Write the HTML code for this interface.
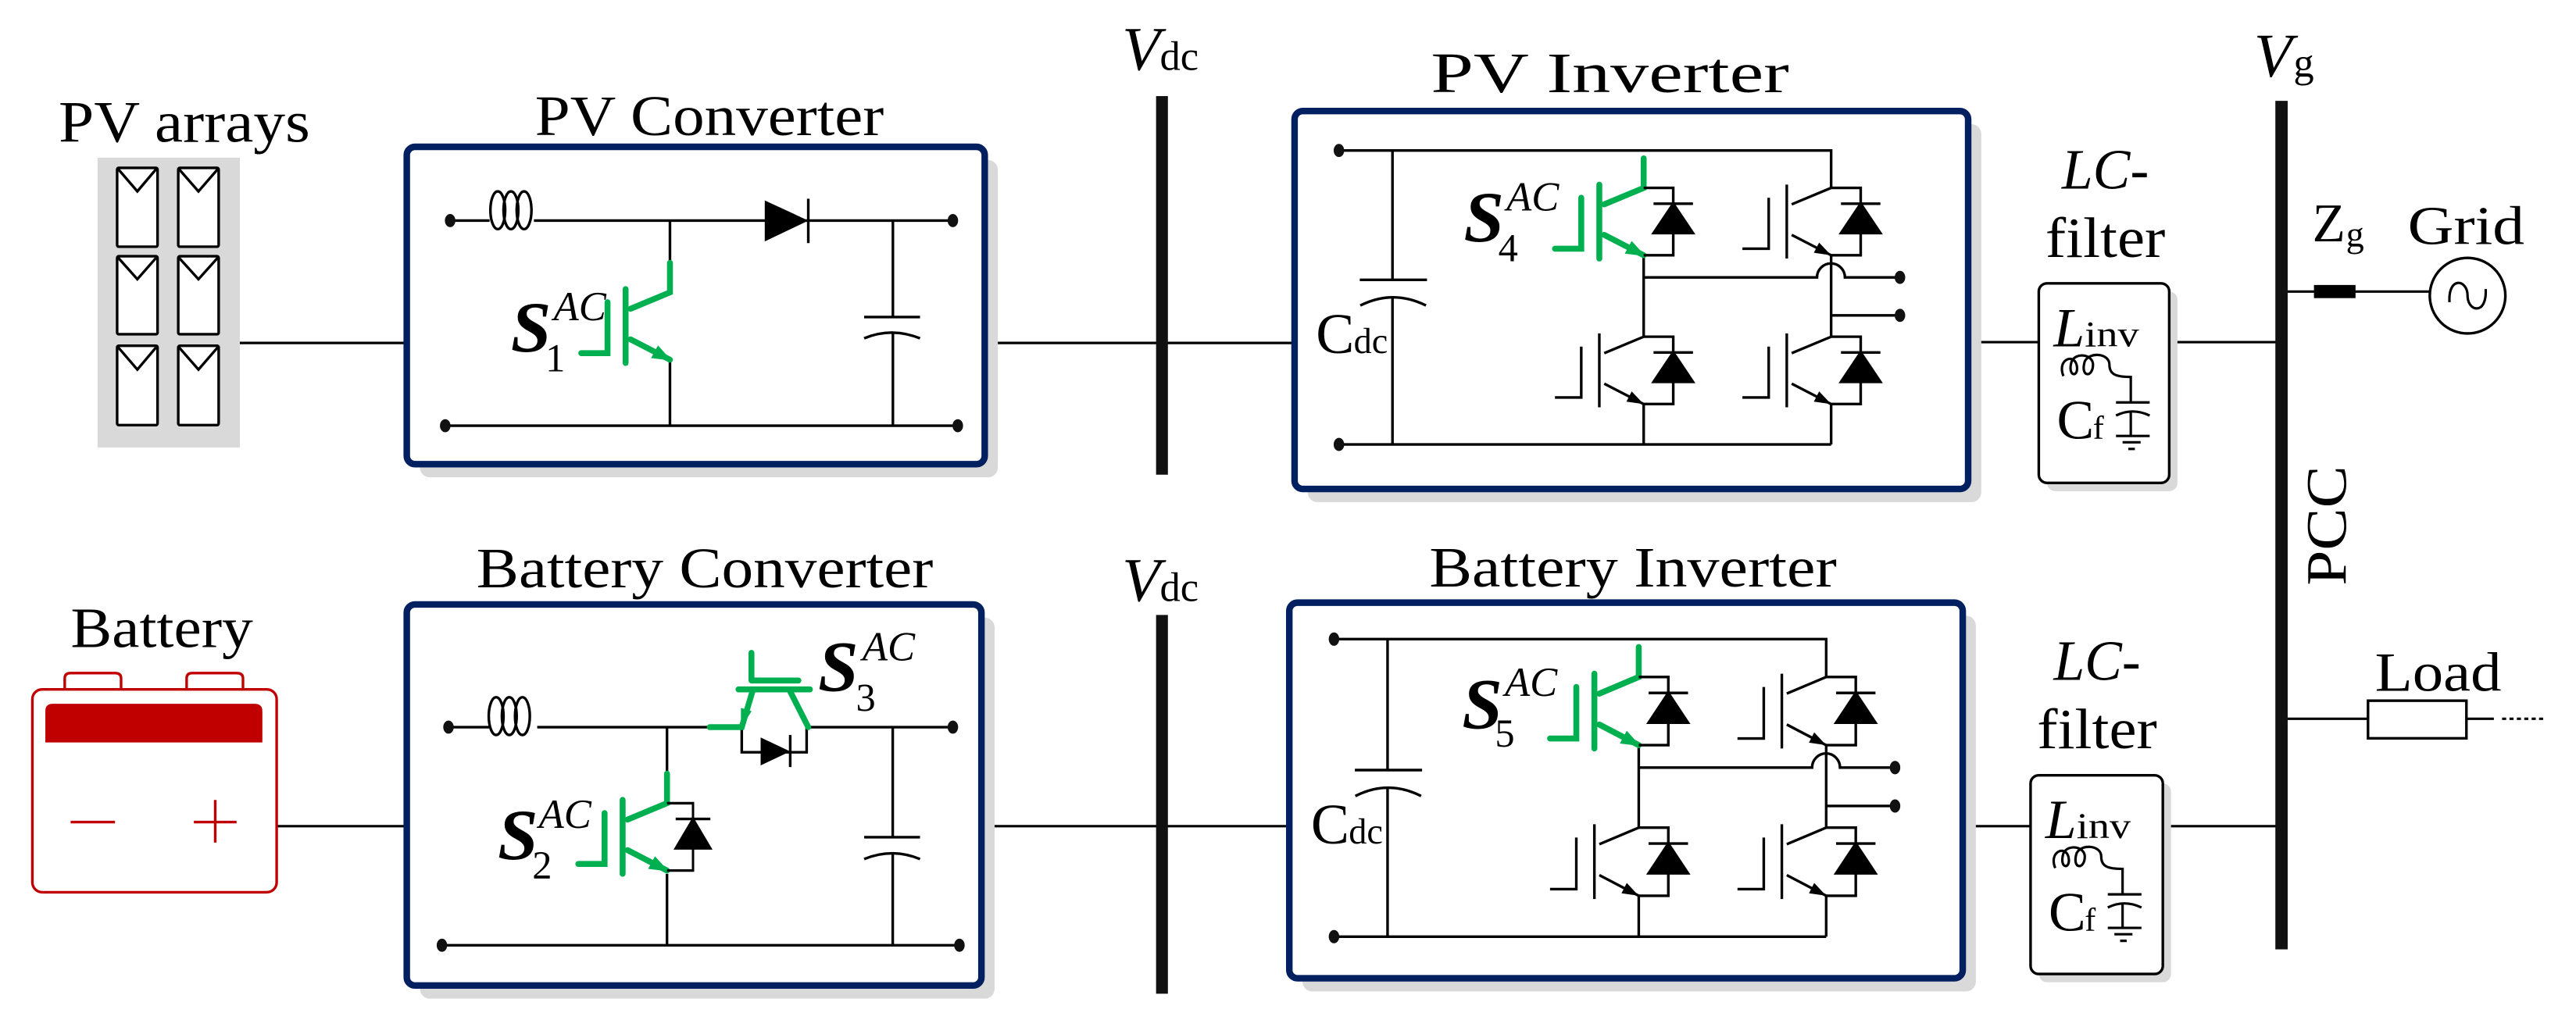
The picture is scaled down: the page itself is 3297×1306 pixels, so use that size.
<!DOCTYPE html>
<html><head><meta charset="utf-8"><style>html,body{margin:0;padding:0;background:#fff}svg{display:block}</style></head>
<body>
<svg width="3297" height="1306" viewBox="0 0 1568 621" preserveAspectRatio="none" xmlns="http://www.w3.org/2000/svg" font-family="'Liberation Serif', serif">
<defs>
  <g id="ig" fill="none" stroke="#000" stroke-width="1.6">
    <path d="M0,0 L-24,10 M-24,28.6 L0,41 M-27,-2 V43 M-38,6 V37 H-54"/>
    <path d="M0,41 L-10.5,39.5 L-7.3,33.3 Z" fill="#000" stroke="none"/>
  </g>
  <g id="igg" fill="none" stroke="#00b050" stroke-width="3.6" stroke-linecap="round">
    <path d="M0,-18 V0 L-24,10 M-24,28.6 L0,41 M-27,-2 V43 M-38,6 V37 H-54"/>
    <path d="M1,41.5 L-11.5,40 L-7.3,32.3 Z" fill="#00b050" stroke="none"/>
  </g>
  <g id="di" stroke="#000" stroke-width="1.6">
    <path d="M0,0 H18 V41 H0" fill="none"/>
    <path d="M6,9.6 H30"/>
    <path d="M6,27.5 H30 L18,9.6 Z" fill="#000"/>
  </g>
  <g id="inv">
    <g fill="none" stroke="#000" stroke-width="1.6">
      <path d="M815,91.6 H1114.6 V114.4"/>
      <path d="M1000.5,155.4 V205 M1000.5,246 V270.6 M1114.6,155.4 V205 M1114.6,246 V270.6 M815,270.6 H1114.6"/>
      <path d="M1000.5,168.9 H1106 A8.5,8.5 0 0 1 1123,168.9 H1156.5 M1114.6,192 H1156.5"/>
      <path d="M847.6,91.6 V170.4 M827.7,170.4 H868.6 M847.6,181 V270.6"/>
      <path d="M828,186 Q848,176 868,186"/>
    </g>
    <use href="#igg" x="1000.5" y="114.4"/>
    <use href="#di" x="1000.5" y="114.4"/>
    <use href="#ig" x="1114.6" y="114.4"/><use href="#di" x="1114.6" y="114.4"/>
    <use href="#ig" x="1000.5" y="205"/><use href="#di" x="1000.5" y="205"/>
    <use href="#ig" x="1114.6" y="205"/><use href="#di" x="1114.6" y="205"/>
    <g fill="#111">
      <ellipse cx="815" cy="91.6" rx="3.2" ry="4"/><ellipse cx="815" cy="270.6" rx="3.2" ry="4"/>
      <ellipse cx="1156.5" cy="168.9" rx="3.2" ry="4"/><ellipse cx="1156.5" cy="192" rx="3.2" ry="4"/>
    </g>
  </g>
  <g id="lcin" fill="none" stroke="#000" stroke-width="1.5">
    <path d="M1256,229 C1252,219 1262,215 1264,222 C1266,230 1258,230 1261,220 C1264,214 1274,216 1274,222 C1274,230 1266,230 1269,220 C1272,214 1284,215 1284,222 C1284,228 1288,229.5 1297,229.5 V245"/>
    <path d="M1288,245 H1308.5 M1288,253 Q1298,248 1308.5,253 M1297,250.5 V265.4 M1288,265.4 H1308.5 M1292,269.3 H1303 M1295.5,273.3 H1299.5"/>
  </g>
</defs>

<text x="35.7" y="86.4" font-size="36" textLength="153" lengthAdjust="spacingAndGlyphs">PV arrays</text>
<rect x="59.4" y="96" width="86.6" height="176.5" fill="#d9d9d9"/>
<g fill="#fff" stroke="#000" stroke-width="1.6">
  <rect x="71.3" y="102.2" width="24.6" height="48" rx="1"/><rect x="108.5" y="102.2" width="24.6" height="48" rx="1"/>
  <rect x="71.3" y="156" width="24.6" height="47.5" rx="1"/><rect x="108.5" y="156" width="24.6" height="47.5" rx="1"/>
  <rect x="71.3" y="210.5" width="24.6" height="48.3" rx="1"/><rect x="108.5" y="210.5" width="24.6" height="48.3" rx="1"/>
</g>
<g fill="none" stroke="#000" stroke-width="1.6">
  <path d="M72,103 L83.6,116.5 L95,103 M109,103 L120.8,116.5 L132.5,103"/>
  <path d="M72,157 L83.6,170 L95,157 M109,157 L120.8,170 L132.5,157"/>
  <path d="M72,211.5 L83.6,225 L95,211.5 M109,211.5 L120.8,225 L132.5,211.5"/>
</g>

<g stroke="#000" stroke-width="1.5" fill="none">
  <path d="M146,208.8 H248 M599,208.8 H788 M1198,208.3 H1241 M1320,208.3 H1386"/>
  <path d="M168,503 H248 M597,503 H785 M1195,503 H1236 M1316,503 H1386"/>
  <path d="M1392,177.5 H1479 M1392,437.6 H1441.4 M1501.3,437.6 H1518"/>
  <path d="M1523,437.6 H1549" stroke-dasharray="2.5,2"/>
</g>

<rect x="703.7" y="58.5" width="7.2" height="230.5" fill="#111"/>
<rect x="703.7" y="374.4" width="7.2" height="230.6" fill="#111"/>
<rect x="1385" y="61.4" width="7.5" height="516.6" fill="#111"/>
<text x="683" y="42.5" font-size="38" font-style="italic">V</text><text x="706" y="42.5" font-size="25">dc</text>
<text x="683" y="366" font-size="38" font-style="italic">V</text><text x="706" y="366" font-size="25">dc</text>
<text x="1372" y="46.7" font-size="38" font-style="italic">V</text><text x="1396" y="46.7" font-size="25">g</text>

<g fill="#d9d9d9">
  <rect x="255.6" y="97.4" width="351.8" height="193.2" rx="6"/>
  <rect x="796" y="75.6" width="410" height="230.1" rx="6"/>
  <rect x="255.6" y="376" width="349.8" height="232" rx="6"/>
  <rect x="792.8" y="374.9" width="409.9" height="228.7" rx="6"/>
  <rect x="1246" y="177.5" width="79.4" height="121.5" rx="5"/>
  <rect x="1241" y="477" width="80.5" height="121" rx="5"/>
</g>
<g fill="#fff" stroke="#022060" stroke-width="4">
  <rect x="247.6" y="89.4" width="351.8" height="193.2" rx="5"/>
  <rect x="788" y="67.6" width="410" height="230.1" rx="5"/>
  <rect x="247.6" y="368" width="349.8" height="232" rx="5"/>
  <rect x="784.8" y="366.9" width="409.9" height="228.7" rx="5"/>
</g>
<g fill="#fff" stroke="#000" stroke-width="1.6">
  <rect x="1241" y="172.5" width="79.4" height="121.5" rx="5"/>
  <rect x="1236" y="472" width="80.5" height="121" rx="5"/>
</g>

<text x="325.6" y="82.3" font-size="35" textLength="212.4" lengthAdjust="spacingAndGlyphs">PV Converter</text>
<text x="871" y="56" font-size="35" textLength="218" lengthAdjust="spacingAndGlyphs">PV Inverter</text>
<text x="290" y="357.5" font-size="35" textLength="278" lengthAdjust="spacingAndGlyphs">Battery Converter</text>
<text x="870" y="357" font-size="35" textLength="248" lengthAdjust="spacingAndGlyphs">Battery Inverter</text>
<text x="43" y="394" font-size="35" textLength="111" lengthAdjust="spacingAndGlyphs">Battery</text>

<g fill="none" stroke="#000" stroke-width="1.6">
  <path d="M274,134.3 H298 M325,134.3 H580 M271,259.2 H583"/>
  <ellipse cx="303" cy="128" rx="4.5" ry="11.5"/><ellipse cx="311" cy="128" rx="4.5" ry="11.5"/><ellipse cx="319" cy="128" rx="4.5" ry="11.5"/>
  <path d="M407.8,134.3 V160 M407.8,220 V259.2"/>
  <path d="M543.5,134.3 V193 M526,193 H560 M526,206 Q543,199 560,206 M543.5,203 V259.2"/>
  <path d="M492,121 V148"/>
</g>
<path d="M465.5,122 L465.5,147 L492,134.3 Z" fill="#000"/>
<use href="#igg" x="407.8" y="178"/>
<g fill="#111"><ellipse cx="274" cy="134.3" rx="3.2" ry="4"/><ellipse cx="580" cy="134.3" rx="3.2" ry="4"/><ellipse cx="271" cy="259.2" rx="3.2" ry="4"/><ellipse cx="583" cy="259.2" rx="3.2" ry="4"/></g>
<text x="311" y="214" font-size="44" font-style="italic" font-weight="bold">S</text>
<text x="337" y="195" font-size="25" font-style="italic">AC</text>
<text x="332" y="226" font-size="24">1</text>

<g fill="none" stroke="#c00000" stroke-width="1.6">
  <rect x="19.7" y="419.7" width="148.7" height="123.5" rx="6"/>
  <path d="M39.4,419.7 V413 Q39.4,409.8 43,409.8 H70 Q73.7,409.8 73.7,413 V419.7"/>
  <path d="M113.6,419.7 V413 Q113.6,409.8 117,409.8 H144 Q147.9,409.8 147.9,413 V419.7"/>
  <path d="M43,500.5 H70 M118,500.5 H144 M131,487 V513"/>
</g>
<path d="M27.6,452 V433 Q27.6,428.5 32,428.5 H155 Q159.7,428.5 159.7,433 V452 Z" fill="#c00000"/>

<g fill="none" stroke="#000" stroke-width="1.6">
  <path d="M273,442.7 H298 M327,442.7 H432 M492,442.7 H580 M269,575.5 H584"/>
  <ellipse cx="302" cy="436" rx="4.5" ry="11.5"/><ellipse cx="310" cy="436" rx="4.5" ry="11.5"/><ellipse cx="318" cy="436" rx="4.5" ry="11.5"/>
  <path d="M406,442.7 V471 M406,532 V575.5"/>
  <path d="M543.4,442.7 V509.7 M526,509.7 H560 M526,523 Q543,516 560,523 M543.4,520 V575.5"/>
  <path d="M451.5,442.7 V458 H491 V442.7 M481,447.5 V467"/>
</g>
<path d="M463,449 L463,466 L481,457.5 Z" fill="#000"/>
<use href="#igg" x="406" y="489"/>
<use href="#di" x="406" y="489" transform="translate(406,489) scale(0.88,1) translate(-406,-489)"/>
<g fill="none" stroke="#00b050" stroke-width="3.6" stroke-linecap="round">
  <path d="M432,442.7 H451.5 L458,421 M492,442.7 L481,421 M449.5,419.7 H493 M457.4,414.3 H486 M457.4,414.3 V397.5"/>
</g>
<path d="M451,443 L451,431 L457.5,433 Z" fill="#00b050"/>
<g fill="#111"><ellipse cx="273" cy="442.7" rx="3.2" ry="4"/><ellipse cx="580" cy="442.7" rx="3.2" ry="4"/><ellipse cx="269" cy="575.5" rx="3.2" ry="4"/><ellipse cx="584" cy="575.5" rx="3.2" ry="4"/></g>
<text x="303" y="523" font-size="44" font-style="italic" font-weight="bold">S</text>
<text x="328" y="504" font-size="25" font-style="italic">AC</text>
<text x="324" y="535" font-size="24">2</text>
<text x="498" y="420.6" font-size="44" font-style="italic" font-weight="bold">S</text>
<text x="525" y="402" font-size="25" font-style="italic">AC</text>
<text x="521" y="433" font-size="24">3</text>

<use href="#inv"/>
<use href="#inv" transform="translate(-3,297.5) translate(0,91.6) scale(1,1.012) translate(0,-91.6)"/>
<text x="891" y="147" font-size="44" font-style="italic" font-weight="bold">S</text>
<text x="917" y="128.2" font-size="25" font-style="italic">AC</text>
<text x="912" y="159" font-size="24">4</text>
<text x="890" y="443.4" font-size="44" font-style="italic" font-weight="bold">S</text>
<text x="916" y="423.7" font-size="25" font-style="italic">AC</text>
<text x="910" y="454.5" font-size="24">5</text>
<text x="801" y="215" font-size="35">C</text><text x="824" y="215" font-size="22">dc</text>
<text x="798" y="513.6" font-size="35">C</text><text x="821" y="513.6" font-size="22">dc</text>

<text x="1255" y="114.9" font-size="35" textLength="53" lengthAdjust="spacingAndGlyphs"><tspan font-style="italic">LC</tspan>-</text>
<text x="1245" y="156.4" font-size="35" textLength="73" lengthAdjust="spacingAndGlyphs">filter</text>
<text x="1250" y="414" font-size="35" textLength="53" lengthAdjust="spacingAndGlyphs"><tspan font-style="italic">LC</tspan>-</text>
<text x="1240" y="455.5" font-size="35" textLength="73" lengthAdjust="spacingAndGlyphs">filter</text>
<text x="1250" y="210.8" font-size="34" font-style="italic">L</text><text x="1269" y="210.8" font-size="22" textLength="33" lengthAdjust="spacingAndGlyphs">inv</text>
<text x="1252" y="267" font-size="34">C</text><text x="1274" y="267" font-size="20">f</text>
<use href="#lcin"/>
<g transform="translate(-5,299.5)">
<text x="1250" y="210.8" font-size="34" font-style="italic">L</text><text x="1269" y="210.8" font-size="22" textLength="33" lengthAdjust="spacingAndGlyphs">inv</text>
<text x="1252" y="267" font-size="34">C</text><text x="1274" y="267" font-size="20">f</text>
<use href="#lcin"/>
</g>

<rect x="1408.5" y="173.5" width="25.3" height="8" fill="#000"/>
<text x="1407.5" y="147" font-size="33">Z</text><text x="1428" y="150" font-size="22">g</text>
<text x="1465.6" y="148.5" font-size="33" textLength="71" lengthAdjust="spacingAndGlyphs">Grid</text>
<circle cx="1502" cy="180" r="23" fill="none" stroke="#000" stroke-width="1.6"/>
<path d="M1491,184 C1490,168 1502,170 1502,180 C1502,190 1514,192 1513,176" fill="none" stroke="#000" stroke-width="1.5"/>
<text transform="translate(1428,320) rotate(-90)" x="0" y="0" font-size="35" text-anchor="middle" textLength="73" lengthAdjust="spacingAndGlyphs">PCC</text>
<rect x="1441.4" y="426.6" width="59.9" height="22.9" fill="#fff" stroke="#000" stroke-width="1.6"/>
<text x="1445.6" y="420.6" font-size="34" textLength="77" lengthAdjust="spacingAndGlyphs">Load</text>
</svg>
</body></html>
